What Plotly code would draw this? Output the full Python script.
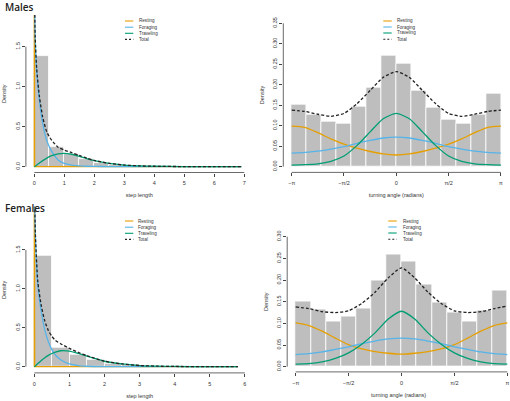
import numpy as np
import plotly.graph_objects as go

PI = np.pi

# ---------------- data ----------------
STEP_BIN_WIDTH = 0.5
MALE_STEP_HIST = [1.38, 0.25, 0.16, 0.09, 0.05, 0.025, 0.012, 0.006, 0.003, 0.002, 0.001, 0.001, 0.0005, 0.0005]
FEMALE_STEP_HIST = [1.43, 0.245, 0.16, 0.09, 0.045, 0.02, 0.01, 0.005, 0.002, 0.001, 0.001, 0.0005]

MALE_STEP_X = [0, 0.03, 0.08, 0.17, 0.28, 0.41, 0.5, 0.58, 0.8, 1.0, 1.25, 1.5, 1.75, 2.0, 2.5, 3.0, 3.5, 4.0, 5.0, 6.0, 6.9]
MALE_FORAGING = [2.4, 1.6, 1.2, 0.83, 0.54, 0.33, 0.25, 0.19, 0.08, 0.04, 0.02, 0.01, 0.005, 0.003, 0.001, 0, 0, 0, 0, 0, 0]
MALE_TRAVELING = [0, 0.005, 0.02, 0.045, 0.075, 0.105, 0.125, 0.138, 0.16, 0.167, 0.155, 0.13, 0.1, 0.075, 0.04, 0.02, 0.01, 0.005, 0.001, 0, 0]
MALE_TOTAL = [2.4, 1.62, 1.22, 0.88, 0.62, 0.44, 0.375, 0.33, 0.24, 0.207, 0.175, 0.14, 0.105, 0.078, 0.041, 0.02, 0.01, 0.005, 0.001, 0, 0]
MALE_RESTING_X = [0, 0, 0.01, 6.9]
MALE_RESTING = [0, 2.5, 0, 0]

FEMALE_STEP_X = [0, 0.03, 0.1, 0.2, 0.3, 0.4, 0.5, 0.6, 0.75, 1.0, 1.25, 1.5, 2.0, 2.5, 3.0, 3.5, 4.0, 5.0, 5.8]
FEMALE_FORAGING = [2.6, 1.7, 1.05, 0.7, 0.47, 0.32, 0.22, 0.15, 0.09, 0.035, 0.015, 0.006, 0.001, 0, 0, 0, 0, 0, 0]
FEMALE_TRAVELING = [0, 0.01, 0.04, 0.08, 0.115, 0.145, 0.17, 0.188, 0.205, 0.2, 0.17, 0.135, 0.07, 0.035, 0.015, 0.007, 0.003, 0, 0]
FEMALE_TOTAL = [2.6, 1.71, 1.09, 0.78, 0.585, 0.465, 0.39, 0.338, 0.295, 0.235, 0.185, 0.141, 0.071, 0.035, 0.015, 0.007, 0.003, 0, 0]
FEMALE_RESTING_X = [0, 0, 0.01, 5.8]
FEMALE_RESTING = [0, 2.5, 0, 0]

# turning angle, sample points in units of pi
ANGLE_PTS = [-1, -7/8, -3/4, -5/8, -1/2, -3/8, -1/4, -1/8, 0, 1/8, 1/4, 3/8, 1/2, 5/8, 3/4, 7/8, 1]
ANGLE_NBINS = 14
MALE_ANGLE_HIST = [0.152, 0.126, 0.110, 0.106, 0.147, 0.193, 0.271, 0.251, 0.186, 0.144, 0.116, 0.106, 0.126, 0.179]
FEMALE_ANGLE_HIST = [0.150, 0.132, 0.104, 0.117, 0.135, 0.200, 0.258, 0.242, 0.190, 0.148, 0.125, 0.104, 0.129, 0.175]

MALE_A_RESTING = [0.099, 0.096, 0.083, 0.068, 0.055, 0.045, 0.037, 0.031, 0.0285, 0.031, 0.037, 0.045, 0.055, 0.068, 0.083, 0.096, 0.099]
MALE_A_FORAGING = [0.033, 0.035, 0.038, 0.043, 0.049, 0.057, 0.064, 0.070, 0.072, 0.070, 0.064, 0.057, 0.049, 0.043, 0.038, 0.035, 0.033]
MALE_A_TRAVELING = [0.004, 0.005, 0.007, 0.013, 0.026, 0.052, 0.085, 0.117, 0.130, 0.117, 0.085, 0.052, 0.026, 0.013, 0.007, 0.005, 0.004]
MALE_A_TOTAL = [0.138, 0.135, 0.128, 0.123, 0.130, 0.154, 0.186, 0.218, 0.232, 0.218, 0.186, 0.154, 0.130, 0.123, 0.128, 0.135, 0.138]

FEMALE_A_RESTING = [0.101, 0.095, 0.082, 0.066, 0.051, 0.041, 0.035, 0.031, 0.029, 0.031, 0.035, 0.041, 0.051, 0.066, 0.082, 0.095, 0.101]
FEMALE_A_FORAGING = [0.028, 0.030, 0.034, 0.040, 0.046, 0.053, 0.059, 0.064, 0.066, 0.064, 0.059, 0.053, 0.046, 0.040, 0.034, 0.030, 0.028]
FEMALE_A_TRAVELING = [0.006, 0.007, 0.011, 0.019, 0.032, 0.052, 0.078, 0.110, 0.128, 0.110, 0.078, 0.052, 0.032, 0.019, 0.011, 0.007, 0.006]
FEMALE_A_TOTAL = [0.138, 0.134, 0.127, 0.125, 0.129, 0.146, 0.172, 0.205, 0.228, 0.205, 0.172, 0.146, 0.129, 0.125, 0.127, 0.134, 0.140]

LEGEND_LABELS = ["Resting", "Foraging", "Traveling", "Total"]
STEP_TICKS_M = [0, 1, 2, 3, 4, 5, 6, 7]
STEP_TICKS_F = [0, 1, 2, 3, 4, 5, 6]
STEP_Y_TICKS = [0, 0.5, 1.0, 1.5]
STEP_Y_LABELS = ["0.0", "0.5", "1.0", "1.5"]
ANGLE_TICK_PI = [-1, -0.5, 0, 0.5, 1]
ANGLE_TICK_LABELS = ["\u2212\u03c0", "\u2212\u03c0/2", "0", "\u03c0/2", "\u03c0"]
MALE_ANGLE_Y_TICKS = [0, 0.05, 0.10, 0.15, 0.20, 0.25, 0.30, 0.35]
FEMALE_ANGLE_Y_TICKS = [0, 0.05, 0.10, 0.15, 0.20, 0.25, 0.30]
PANEL_TITLES = ["Males", "Females"]

# ---------------- style ----------------
C_REST = "#E69F00"
C_FOR = "#56B4E9"
C_TRAV = "#009E73"
C_TOT = "#222222"
C_BAR = "#BEBEBE"
AX_C = "#444444"
TXT_C = "#333333"
FONT = "Liberation Sans"
W, H = 510, 401

fig = go.Figure()

# panel geometry in pixels
panels = {
    "TL": dict(ax="", x_px=(25.9, 252.7), xr=(-0.28, 7.28), y_px=(15.0, 172.5), yr=(-0.073, 1.896)),
    "TR": dict(ax="2", x_px=(283.3, 509.3), xr=(-3.393, 3.393), y_px=(17.6, 172.4), yr=(-0.014, 0.364)),
    "BL": dict(ax="3", x_px=(25.9, 253.3), xr=(-0.24, 6.24), y_px=(206.7, 372.9), yr=(-0.0797, 2.056)),
    "BR": dict(ax="4", x_px=(287.2, 510.0), xr=(-3.393, 3.221), y_px=(231.5, 371.9), yr=(-0.012, 0.312)),
}


def xy_names(p):
    a = panels[p]["ax"]
    return "x" + a, "y" + a


def add_curves(p, xs_main, forg, trav, tot, xs_rest, rest, rest_spline=False):
    xa, ya = xy_names(p)
    fig.add_trace(go.Scatter(x=xs_rest, y=rest, mode="lines",
                             line=dict(color=C_REST, width=1.3, shape="spline" if rest_spline else "linear", smoothing=0.6),
                             xaxis=xa, yaxis=ya, showlegend=False, name="Resting"))
    fig.add_trace(go.Scatter(x=xs_main, y=forg, mode="lines", line=dict(color=C_FOR, width=1.3, shape="spline", smoothing=0.6),
                             xaxis=xa, yaxis=ya, showlegend=False, name="Foraging"))
    fig.add_trace(go.Scatter(x=xs_main, y=trav, mode="lines", line=dict(color=C_TRAV, width=1.3, shape="spline", smoothing=0.6),
                             xaxis=xa, yaxis=ya, showlegend=False, name="Traveling"))
    fig.add_trace(go.Scatter(x=xs_main, y=tot, mode="lines",
                             line=dict(color=C_TOT, width=1.3, dash="3px,2px", shape="spline", smoothing=0.6),
                             xaxis=xa, yaxis=ya, showlegend=False, name="Total"))


def add_hist(p, vals, edges):
    xa, ya = xy_names(p)
    edges = np.asarray(edges)
    centers = (edges[:-1] + edges[1:]) / 2
    widths = edges[1:] - edges[:-1]
    fig.add_trace(go.Bar(x=centers, y=vals, width=widths, marker=dict(color=C_BAR, line=dict(color="white", width=0.8)),
                         xaxis=xa, yaxis=ya, showlegend=False, hoverinfo="skip"))


# step length panels
add_hist("TL", MALE_STEP_HIST, np.arange(len(MALE_STEP_HIST) + 1) * STEP_BIN_WIDTH)
add_curves("TL", MALE_STEP_X, MALE_FORAGING, MALE_TRAVELING, MALE_TOTAL, MALE_RESTING_X, MALE_RESTING)
add_hist("BL", FEMALE_STEP_HIST, np.arange(len(FEMALE_STEP_HIST) + 1) * STEP_BIN_WIDTH)
add_curves("BL", FEMALE_STEP_X, FEMALE_FORAGING, FEMALE_TRAVELING, FEMALE_TOTAL, FEMALE_RESTING_X, FEMALE_RESTING)

# turning angle panels
ang_edges = np.linspace(-PI, PI, ANGLE_NBINS + 1)
ang_x = [a * PI for a in ANGLE_PTS]
add_hist("TR", MALE_ANGLE_HIST, ang_edges)
add_curves("TR", ang_x, MALE_A_FORAGING, MALE_A_TRAVELING, MALE_A_TOTAL, ang_x, MALE_A_RESTING, rest_spline=True)
add_hist("BR", FEMALE_ANGLE_HIST, ang_edges)
add_curves("BR", ang_x, FEMALE_A_FORAGING, FEMALE_A_TRAVELING, FEMALE_A_TOTAL, ang_x, FEMALE_A_RESTING, rest_spline=True)

tickfont = dict(family=FONT, size=5.5, color=TXT_C)
titlefont = dict(family=FONT, size=5.5, color=TXT_C)

axis_specs = {
    "TL": dict(xt=STEP_TICKS_M, xl=[str(t) for t in STEP_TICKS_M], yt=STEP_Y_TICKS, yl=STEP_Y_LABELS, xtitle="step length"),
    "TR": dict(xt=[a * PI for a in ANGLE_TICK_PI], xl=ANGLE_TICK_LABELS, yt=MALE_ANGLE_Y_TICKS,
               yl=["%.2f" % v for v in MALE_ANGLE_Y_TICKS], xtitle="turning angle (radians)"),
    "BL": dict(xt=STEP_TICKS_F, xl=[str(t) for t in STEP_TICKS_F], yt=STEP_Y_TICKS, yl=STEP_Y_LABELS, xtitle="step length"),
    "BR": dict(xt=[a * PI for a in ANGLE_TICK_PI], xl=ANGLE_TICK_LABELS, yt=FEMALE_ANGLE_Y_TICKS,
               yl=["%.2f" % v for v in FEMALE_ANGLE_Y_TICKS], xtitle="turning angle (radians)"),
}

layout = {}
shapes = []
for p, g in panels.items():
    a = g["ax"]
    s = axis_specs[p]
    xd = [g["x_px"][0] / W, min(1.0, g["x_px"][1] / W)]
    yd = [1 - g["y_px"][1] / H, 1 - g["y_px"][0] / H]
    layout["xaxis" + a] = dict(domain=xd, range=list(g["xr"]), anchor="y" + a, showgrid=False, zeroline=False,
                               showline=False, ticks="outside", ticklen=3, tickwidth=0.8, tickcolor=AX_C,
                               tickvals=s["xt"], ticktext=s["xl"], tickfont=tickfont, ticklabelstandoff=2,
                               title=dict(text=s["xtitle"], font=titlefont, standoff=8))
    layout["yaxis" + a] = dict(domain=yd, range=list(g["yr"]), anchor="x" + a, showgrid=False, zeroline=False,
                               showline=False, ticks="outside", ticklen=3, tickwidth=0.8, tickcolor=AX_C,
                               tickvals=s["yt"], ticktext=s["yl"], tickfont=tickfont, tickangle=-90,
                               title=dict(text="Density", font=titlefont, standoff=7))
    xa, ya = "x" + a, "y" + a
    # R style axis lines spanning first to last tick
    shapes.append(dict(type="line", xref=xa, yref=ya + " domain", x0=s["xt"][0], x1=s["xt"][-1], y0=0, y1=0,
                       line=dict(color=AX_C, width=0.8)))
    shapes.append(dict(type="line", xref=xa + " domain", yref=ya, x0=0, x1=0, y0=s["yt"][0], y1=s["yt"][-1],
                       line=dict(color=AX_C, width=0.8)))

# manual legends (pixel positions)
legend_pos = {
    "TL": dict(lx=(125.0, 133.3), tx=136.7, rows=(21.0, 27.2, 33.3, 39.4)),
    "TR": dict(lx=(383.3, 391.7), tx=395.0, rows=(21.0, 27.0, 33.0, 39.2)),
    "BL": dict(lx=(125.0, 133.3), tx=135.5, rows=(221.0, 227.2, 233.3, 239.4)),
    "BR": dict(lx=(388.3, 396.7), tx=401.0, rows=(221.0, 227.0, 233.0, 239.2)),
}
leg_colors = [C_REST, C_FOR, C_TRAV, C_TOT]
annotations = []
for p, lp in legend_pos.items():
    for i, lab in enumerate(LEGEND_LABELS):
        yy = 1 - lp["rows"][i] / H
        shapes.append(dict(type="line", xref="paper", yref="paper", x0=lp["lx"][0] / W, x1=lp["lx"][1] / W,
                           y0=yy, y1=yy, line=dict(color=leg_colors[i], width=1.1,
                                                   dash="2px,2px" if lab == "Total" else "solid")))
        annotations.append(dict(xref="paper", yref="paper", x=lp["tx"] / W, y=yy, xanchor="left", yanchor="middle",
                                text=lab, showarrow=False, font=dict(family=FONT, size=4.6, color=TXT_C)))

# section titles
annotations.append(dict(xref="paper", yref="paper", x=2.5 / W, y=1 - 7.0 / H, xanchor="left", yanchor="middle",
                        text=PANEL_TITLES[0], showarrow=False,
                        font=dict(family="Open Sans", size=10, color="#222222", weight=600)))
annotations.append(dict(xref="paper", yref="paper", x=2.5 / W, y=1 - 207.5 / H, xanchor="left", yanchor="middle",
                        text=PANEL_TITLES[1], showarrow=False,
                        font=dict(family="Open Sans", size=10, color="#222222", weight=600)))

fig.update_layout(
    width=W, height=H, margin=dict(l=0, r=0, t=0, b=0),
    paper_bgcolor="white", plot_bgcolor="white",
    showlegend=False, bargap=0, barmode="overlay",
    shapes=shapes, annotations=annotations,
    **layout,
)

fig.write_html("out.html", config={"displayModeBar": False},
               post_script="document.body.style.margin='0';document.body.style.padding='0';document.body.style.overflow='hidden';")
